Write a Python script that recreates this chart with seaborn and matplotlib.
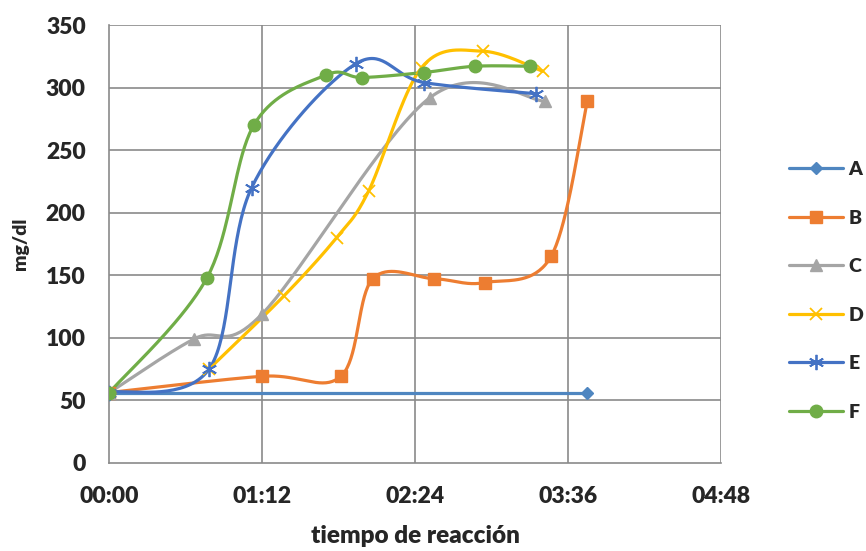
import numpy as np
import pandas as pd
import matplotlib
matplotlib.use("Agg")
import matplotlib.pyplot as plt
from matplotlib.lines import Line2D
from matplotlib.ticker import FuncFormatter
import seaborn as sns

# ---- data (time in minutes, values in mg/dl) ----
series_names = ["A", "B", "C", "D", "E", "F"]
A_t = [0, 225]
A_v = [56, 56]
B_t = [0, 72, 109, 124, 153, 177, 208, 225]
B_v = [56, 69, 69, 147, 147, 144, 165, 289]
C_t = [0, 40, 72, 151, 205]
C_v = [56, 99, 119, 292, 289]
D_t = [47, 82, 107, 122, 147, 176, 204]
D_v = [75, 133, 180, 217, 316, 329, 313]
E_t = [0, 47, 67, 116, 148, 201]
E_v = [56, 75, 220, 319, 304, 295]
F_t = [0, 46, 68, 102, 119, 148, 172, 198]
F_v = [56, 148, 270, 310, 308, 312, 317, 317]
x_ticks = [0, 72, 144, 216, 288]
y_ticks = [0, 50, 100, 150, 200, 250, 300, 350]

times = [A_t, B_t, C_t, D_t, E_t, F_t]
values = [A_v, B_v, C_v, D_v, E_v, F_v]

colors = ["#4F86C0", "#ED7D31", "#A5A5A5", "#FFC000", "#4472C4", "#70AD47"]
markers = ["D", "s", "^", "x", (6, 2, 0), "o"]
msizes = [6, 9, 9, 9, 11, 9]


def excel_smooth(t, v, n=40):
    """Excel-like smoothed line: Catmull-Rom tangents as cubic Bezier."""
    P = np.column_stack([t, v]).astype(float)
    m = len(P)
    if m < 3:
        return P[:, 0], P[:, 1]
    out = []
    s = np.linspace(0, 1, n)[:, None]
    for i in range(m - 1):
        p0 = P[i - 1] if i > 0 else P[i]
        p1 = P[i]
        p2 = P[i + 1]
        p3 = P[i + 2] if i + 2 < m else P[i + 1]
        c1 = p1 + (p2 - p0) / 6.0
        c2 = p2 - (p3 - p1) / 6.0
        seg = ((1 - s) ** 3) * p1 + 3 * ((1 - s) ** 2) * s * c1 + 3 * (1 - s) * s ** 2 * c2 + s ** 3 * p2
        out.append(seg if i == 0 else seg[1:])
    out = np.vstack(out)
    return out[:, 0], out[:, 1]


sns.set_style("white")
plt.rcParams["font.family"] = ["Lato", "DejaVu Sans"]
W = "heavy"
plt.rcParams["font.weight"] = W

fig = plt.figure(figsize=(8.66, 5.51), dpi=100)
ax = fig.add_axes([0.1264, 0.1606, 0.8326 - 0.1264, 0.9546 - 0.1606])

grid_c = "#8A8A8A"
for xt in x_ticks[1:]:
    ax.axvline(xt, color=grid_c, lw=1.2, zorder=0)
for yt in y_ticks[1:]:
    ax.axhline(yt, color=grid_c, lw=1.2, zorder=0)

handles = []
for name, t, v, c, mk, ms in zip(series_names, times, values, colors, markers, msizes):
    xs, ys = excel_smooth(t, v)
    df = pd.DataFrame({"t": xs, "v": ys})
    sns.lineplot(data=df, x="t", y="v", color=c, lw=2.3, sort=False,
                 estimator=None, ax=ax, legend=False, zorder=3)
    mew = 1.3 if mk in ("x",) or isinstance(mk, tuple) else 1
    ax.plot(t, v, ls="none", marker=mk, ms=ms, color=c, mec=c, mew=mew, zorder=4)
    handles.append(Line2D([0], [0], color=c, lw=2.3, marker=mk, ms=ms, mec=c, mew=mew, label=name))

ax.set_xlim(0, 288)
ax.set_ylim(0, 350)
ax.set_xticks(x_ticks)
ax.set_yticks(y_ticks)
ax.xaxis.set_major_formatter(FuncFormatter(lambda m, p: f"{int(m)//60:02d}:{int(m)%60:02d}"))
ax.tick_params(axis="both", length=0, labelsize=16.5, pad=17)
for lab in ax.get_xticklabels() + ax.get_yticklabels():
    lab.set_fontweight(W)

for side in ["top", "right"]:
    ax.spines[side].set_visible(False)
for side in ["left", "bottom"]:
    ax.spines[side].set_color(grid_c)
    ax.spines[side].set_linewidth(1.2)

ax.set_xlabel("tiempo de reacción", fontsize=17.5, fontweight=W, labelpad=13)
ax.set_ylabel("mg/dl", fontsize=14, fontweight=W, labelpad=12)

leg = fig.legend(handles=handles, loc="center left", bbox_to_anchor=(789 / 866, 1 - 290.8 / 551),
                 frameon=False, fontsize=14, handlelength=2.8, handletextpad=0.25,
                 labelspacing=1.62, borderpad=0, borderaxespad=0)
for txt in leg.get_texts():
    txt.set_fontweight(W)

fig.savefig("out.png", dpi=100)
